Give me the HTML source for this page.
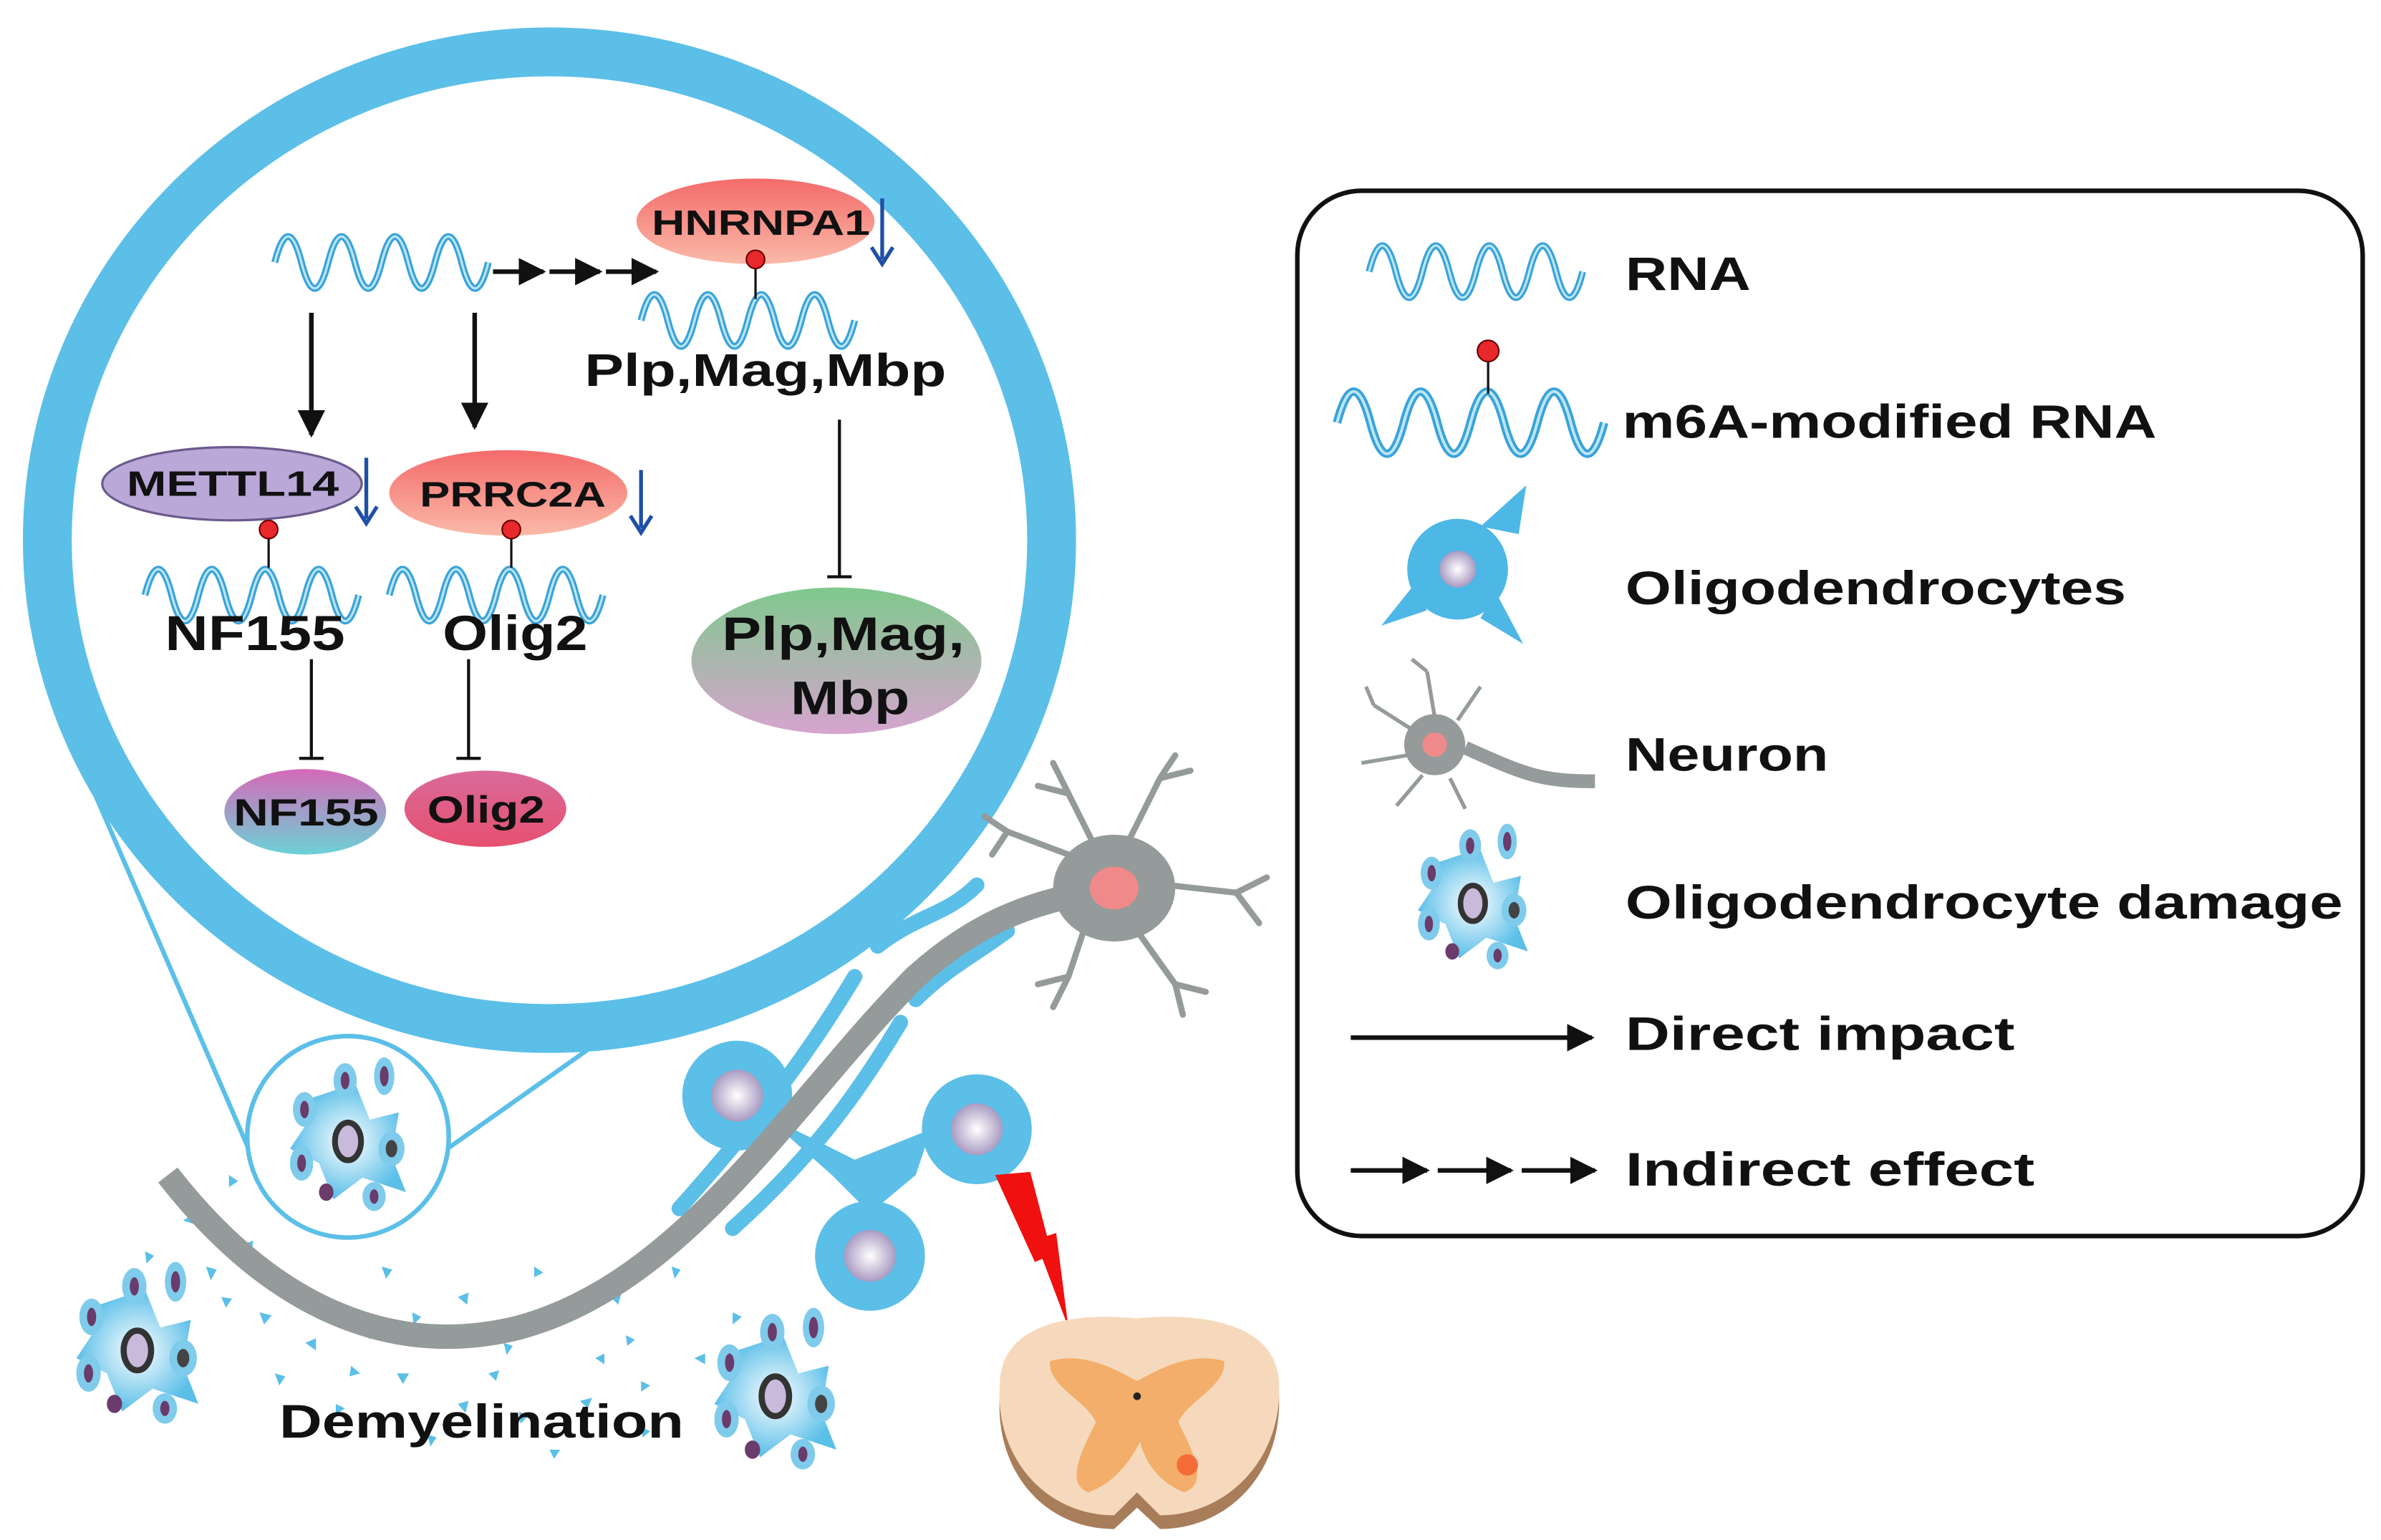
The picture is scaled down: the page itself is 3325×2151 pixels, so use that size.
<!DOCTYPE html>
<html><head><meta charset="utf-8"><style>
html,body{margin:0;padding:0;background:#fff;}
svg{display:block;}
text{font-family:"Liberation Sans",Arial,sans-serif;font-weight:bold;fill:#111;}
</style></head><body>
<svg width="3325" height="2151" viewBox="0 0 1560 1009.2" xmlns="http://www.w3.org/2000/svg">
<defs>
<path id="wv" d="M0,0 q8.75,-34 17.5,0 t17.5,0 t17.5,0 t17.5,0 t17.5,0 t17.5,0 t17.5,0 t17.5,0" fill="none"/>
<g id="wave"><use href="#wv" stroke="#3AA3D8" stroke-width="4.5"/><use href="#wv" stroke="#BDE6F7" stroke-width="1.5"/></g>
<marker id="ah" viewBox="0 0 10 10" refX="9" refY="5" markerWidth="6" markerHeight="6" orient="auto"><path d="M0,0L10,5L0,10z" fill="#111"/></marker>
<linearGradient id="red" x1="0" y1="0" x2="0" y2="1"><stop offset="0" stop-color="#F36B6B"/><stop offset="1" stop-color="#FBB9A8"/></linearGradient>
<linearGradient id="gp" x1="0" y1="0" x2="0" y2="1"><stop offset="0" stop-color="#7FC98C"/><stop offset="1" stop-color="#D6A4CF"/></linearGradient>
<linearGradient id="nf" x1="0" y1="0" x2="0" y2="1"><stop offset="0" stop-color="#D569B8"/><stop offset="1" stop-color="#6CD1D6"/></linearGradient>
<linearGradient id="ol" x1="0" y1="0" x2="0" y2="1"><stop offset="0" stop-color="#D96A9A"/><stop offset="1" stop-color="#E6506F"/></linearGradient>
<radialGradient id="nuc"><stop offset="0" stop-color="#fff"/><stop offset="1" stop-color="#A99BC2"/></radialGradient>
<radialGradient id="cellg"><stop offset="0" stop-color="#fff"/><stop offset="1" stop-color="#5BBFE8"/></radialGradient>
<g id="dmg">
<path d="M-25,-30 L5,-40 L15,-15 L35,-20 L30,10 L40,35 L10,25 L-10,40 L-20,15 L-40,5 L-30,-10Z" fill="url(#cellg)"/>
<ellipse cx="0" cy="0" rx="9" ry="13" fill="#C9B9DA" stroke="#333" stroke-width="4"/>
<ellipse cx="-30" cy="-22" rx="8" ry="12" fill="#7FCBEB"/><ellipse cx="-30" cy="-22" rx="3" ry="6" fill="#6A3B6B"/>
<ellipse cx="-2" cy="-42" rx="8" ry="12" fill="#7FCBEB"/><ellipse cx="-2" cy="-42" rx="3" ry="6" fill="#6A3B6B"/>
<ellipse cx="25" cy="-45" rx="7" ry="13" fill="#7FCBEB"/><ellipse cx="25" cy="-45" rx="3" ry="7" fill="#6A3B6B"/>
<ellipse cx="30" cy="5" rx="9" ry="12" fill="#7FCBEB"/><ellipse cx="30" cy="5" rx="4" ry="6" fill="#444"/>
<ellipse cx="-32" cy="15" rx="8" ry="12" fill="#7FCBEB"/><ellipse cx="-32" cy="15" rx="3" ry="6" fill="#6A3B6B"/>
<ellipse cx="18" cy="38" rx="8" ry="10" fill="#7FCBEB"/><ellipse cx="18" cy="38" rx="3" ry="5" fill="#6A3B6B"/>
<ellipse cx="-15" cy="35" rx="5" ry="6" fill="#6A3B6B"/>
</g>
</defs>

<!-- zoom lines -->
<line x1="62" y1="520" x2="166" y2="760" stroke="#5BBFE8" stroke-width="3"/>
<line x1="460" y1="635" x2="290" y2="755" stroke="#5BBFE8" stroke-width="3"/>
<!-- big circle -->
<ellipse cx="360" cy="354" rx="329" ry="320" fill="#fff" stroke="#5BBFE8" stroke-width="32"/>
<circle cx="228" cy="745" r="66" fill="#fff" stroke="#5BBFE8" stroke-width="3"/>
<use href="#dmg" transform="translate(228,748) scale(0.95)"/>

<!-- circle content -->
<use href="#wave" transform="translate(180,172)"/>
<g stroke="#111" stroke-width="3" marker-end="url(#ah)">
<line x1="323" y1="178" x2="356" y2="178"/><line x1="360" y1="178" x2="393" y2="178"/><line x1="397" y1="178" x2="430" y2="178"/>
<line x1="204" y1="205" x2="204" y2="285"/><line x1="311" y1="205" x2="311" y2="280"/>
</g>
<ellipse cx="495" cy="145" rx="78" ry="28" fill="url(#red)"/>
<text x="427" y="154" font-size="23" textLength="143" lengthAdjust="spacingAndGlyphs">HNRNPA1</text>
<use href="#wave" transform="translate(420,210)"/>
<line x1="495" y1="170" x2="495" y2="196" stroke="#111" stroke-width="1.5"/><circle cx="495" cy="170" r="6" fill="#E8282A" stroke="#600" stroke-width="1"/>
<text x="383" y="253" font-size="30" textLength="237" lengthAdjust="spacingAndGlyphs">Plp,Mag,Mbp</text>
<g stroke="#111" stroke-width="2"><line x1="550" y1="275" x2="550" y2="378"/><line x1="542" y1="378" x2="558" y2="378"/>
<line x1="204" y1="432" x2="204" y2="497"/><line x1="196" y1="497" x2="212" y2="497"/>
<line x1="307" y1="432" x2="307" y2="497"/><line x1="299" y1="497" x2="315" y2="497"/></g>
<ellipse cx="548" cy="433" rx="95" ry="48" fill="url(#gp)"/>
<text x="473" y="426" font-size="31" textLength="159" lengthAdjust="spacingAndGlyphs">Plp,Mag,</text>
<text x="518" y="468" font-size="31" textLength="78" lengthAdjust="spacingAndGlyphs">Mbp</text>

<ellipse cx="152" cy="317" rx="85" ry="24" fill="#B9A8D8" stroke="#6B5A8C" stroke-width="1.5"/>
<text x="83" y="325" font-size="23" textLength="139" lengthAdjust="spacingAndGlyphs">METTL14</text>
<ellipse cx="333" cy="323" rx="78" ry="28" fill="url(#red)"/>
<text x="275" y="332" font-size="23" textLength="122" lengthAdjust="spacingAndGlyphs">PRRC2A</text>
<g stroke="#1E4FA8" stroke-width="2.5" fill="#1E4FA8">
<line x1="578" y1="130" x2="578" y2="170"/><path d="M571,162 L578,173 L585,162" fill="none"/>
<line x1="240" y1="300" x2="240" y2="340"/><path d="M233,332 L240,343 L247,332" fill="none"/>
<line x1="420" y1="308" x2="420" y2="346"/><path d="M413,338 L420,349 L427,338" fill="none"/>
</g>
<use href="#wave" transform="translate(95,390)"/><use href="#wave" transform="translate(255,390)"/>
<line x1="176" y1="347" x2="176" y2="372" stroke="#111" stroke-width="1.5"/><circle cx="176" cy="347" r="6" fill="#E8282A" stroke="#600"/>
<line x1="335" y1="347" x2="335" y2="372" stroke="#111" stroke-width="1.5"/><circle cx="335" cy="347" r="6" fill="#E8282A" stroke="#600"/>
<text x="108" y="426" font-size="32" textLength="118" lengthAdjust="spacingAndGlyphs">NF155</text>
<text x="290" y="426" font-size="32" textLength="95" lengthAdjust="spacingAndGlyphs">Olig2</text>
<ellipse cx="200" cy="532" rx="53" ry="28" fill="url(#nf)"/>
<text x="153" y="541" font-size="25" textLength="95" lengthAdjust="spacingAndGlyphs">NF155</text>
<ellipse cx="318" cy="530" rx="53" ry="25" fill="url(#ol)"/>
<text x="280" y="539" font-size="25" textLength="77" lengthAdjust="spacingAndGlyphs">Olig2</text>

<!-- debris -->
<g fill="#5BBFE8">
<path d="M120,800l8,-6l2,9z M135,830l7,2l-4,7z M150,770l6,4l-6,4z M170,860l8,2l-5,6z M200,880l7,-3l0,8z M230,895l6,5l-7,2z M260,900l8,0l-4,7z M300,920l7,-2l-2,8z M340,925l6,3l-5,5z M380,918l8,-2l-3,7z M420,905l6,3l-6,4z M455,890l7,-3l0,7z M480,860l6,3l-6,5z M250,830l7,2l-4,6z M300,850l7,-3l-1,8z M350,830l6,4l-6,3z M400,850l7,-2l-2,7z M440,830l6,2l-4,6z M180,900l7,2l-4,6z M220,920l6,3l-6,4z M280,940l6,2l-4,6z M360,950l7,0l-4,6z M420,935l6,3l-5,4z M95,820l6,3l-5,5z M160,815l6,-2l-1,7z M330,880l6,2l-4,6z M390,890l6,-3l0,7z M270,860l6,3l-5,5z M320,900l7,-2l-2,7z M240,870l6,2l-4,6z M410,875l6,3l-5,4z M145,850l7,1l-4,6z"/>
</g>

<!-- neuron axon & myelin -->
<g stroke="#5BBFE8" stroke-width="10" stroke-linecap="round" fill="none">
<path d="M445,792 C500,730 530,690 560,640"/><path d="M575,620 C600,600 620,600 640,580"/>
<path d="M480,805 C530,760 560,720 590,670"/><path d="M600,655 C620,635 640,625 660,610"/>
</g>
<g fill="#5BBFE8">
<circle cx="483" cy="718" r="36"/><circle cx="640" cy="740" r="36"/><circle cx="570" cy="823" r="36"/>
<path d="M500,730 L560,760 L610,740 L600,770 L570,795 L545,770Z"/>
</g>
<circle cx="483" cy="718" r="17" fill="url(#nuc)"/><circle cx="640" cy="740" r="17" fill="url(#nuc)"/><circle cx="570" cy="823" r="17" fill="url(#nuc)"/>
<path d="M110,770 C180,860 260,890 340,870 C450,840 520,720 600,640 C650,595 690,590 725,582" fill="none" stroke="#959A9A" stroke-width="16"/>
<!-- soma -->
<g stroke="#959A9A" stroke-width="4" fill="none" stroke-linecap="round">
<path d="M720,560 L700,520 L690,500"/><path d="M700,520 L680,515"/><path d="M740,550 L760,510 L770,495"/><path d="M760,510 L780,505"/>
<path d="M765,580 L810,585 L830,575"/><path d="M810,585 L825,605"/><path d="M745,610 L770,645 L775,665"/><path d="M770,645 L790,650"/>
<path d="M710,610 L700,640 L690,660"/><path d="M700,640 L680,645"/><path d="M700,560 L660,545 L645,535"/><path d="M660,545 L650,560"/>
</g>
<ellipse cx="730" cy="582" rx="40" ry="35" fill="#959A9A"/>
<ellipse cx="730" cy="582" rx="16" ry="14" fill="#F08A8A"/>

<!-- lightning -->
<path d="M652,770 L675,768 L686,810 L692,808 L700,870 L683,825 L678,827Z" fill="#F01010"/>
<!-- spinal cord -->
<path d="M655,915 C655,872 705,866 745,868 C785,866 838,872 838,915 C840,965 805,1002 760,1002 L745,988 L730,1002 C685,1002 652,965 655,915Z" fill="#A87D5A"/>
<path d="M655,908 C655,866 705,860 745,864 C785,860 838,866 838,908 C840,955 805,993 760,993 L745,978 L730,993 C685,993 652,955 655,908Z" fill="#F6D9BC"/>
<path d="M688,892 C712,885 735,900 745,905 C755,900 778,885 802,892 C804,908 778,918 772,932 C782,952 792,972 776,978 C760,972 750,958 747,945 C740,958 730,972 713,978 C698,972 708,952 718,932 C712,918 686,908 688,892Z" fill="#F2AE6A"/>
<circle cx="745" cy="915" r="2.5" fill="#222"/>
<circle cx="778" cy="960" r="7" fill="#F55A2A" opacity="0.8"/>

<use href="#dmg" transform="translate(90,885)"/>
<use href="#dmg" transform="translate(508,915)"/>
<text x="183" y="942" font-size="31" textLength="265" lengthAdjust="spacingAndGlyphs">Demyelination</text>

<!-- legend -->
<rect x="850" y="125" width="698" height="685" rx="42" fill="#fff" stroke="#111" stroke-width="3"/>
<g stroke="#111" stroke-width="3" marker-end="url(#ah)">
<line x1="885" y1="680" x2="1043" y2="680"/>
<line x1="885" y1="767" x2="935" y2="767"/><line x1="942" y1="767" x2="990" y2="767"/><line x1="997" y1="767" x2="1045" y2="767"/>
</g>
<use href="#wave" transform="translate(897,178)"/>
<text x="1065" y="190" font-size="31" textLength="82" lengthAdjust="spacingAndGlyphs">RNA</text>
<use href="#wave" transform="translate(876,277) scale(1.25,1.2)"/>
<line x1="975" y1="230" x2="975" y2="258" stroke="#111" stroke-width="1.5"/><circle cx="975" cy="230" r="7" fill="#E8282A" stroke="#600"/>
<text x="1063" y="287" font-size="31" textLength="350" lengthAdjust="spacingAndGlyphs">m6A-modified RNA</text>
<g fill="#4DB7E6"><circle cx="955" cy="373" r="33"/><path d="M970,345 L1000,318 L995,350Z M925,385 L905,410 L935,400Z M980,388 L998,422 L970,405Z"/></g>
<circle cx="955" cy="373" r="12" fill="url(#nuc)"/>
<text x="1065" y="396" font-size="31" textLength="328" lengthAdjust="spacingAndGlyphs">Oligodendrocytes</text>
<path d="M960,490 C1000,508 1010,512 1045,512" stroke="#959A9A" stroke-width="9" fill="none"/>
<g stroke="#959A9A" stroke-width="2.5" fill="none"><path d="M940,470 L935,440 M925,478 L900,462 M922,495 L892,500 M932,508 L915,528 M950,510 L960,530 M955,472 L970,450 M935,440 L925,432 M900,462 L895,450"/></g>
<circle cx="940" cy="488" r="20" fill="#959A9A"/><circle cx="940" cy="488" r="8" fill="#F08A8A"/>
<text x="1065" y="505" font-size="31" textLength="133" lengthAdjust="spacingAndGlyphs">Neuron</text>
<use href="#dmg" transform="translate(965,592) scale(0.9)"/>
<text x="1065" y="602" font-size="31" textLength="470" lengthAdjust="spacingAndGlyphs">Oligodendrocyte damage</text>
<text x="1065" y="688" font-size="31" textLength="255" lengthAdjust="spacingAndGlyphs">Direct impact</text>
<text x="1065" y="777" font-size="31" textLength="268" lengthAdjust="spacingAndGlyphs">Indirect effect</text>
</svg>
</body></html>
